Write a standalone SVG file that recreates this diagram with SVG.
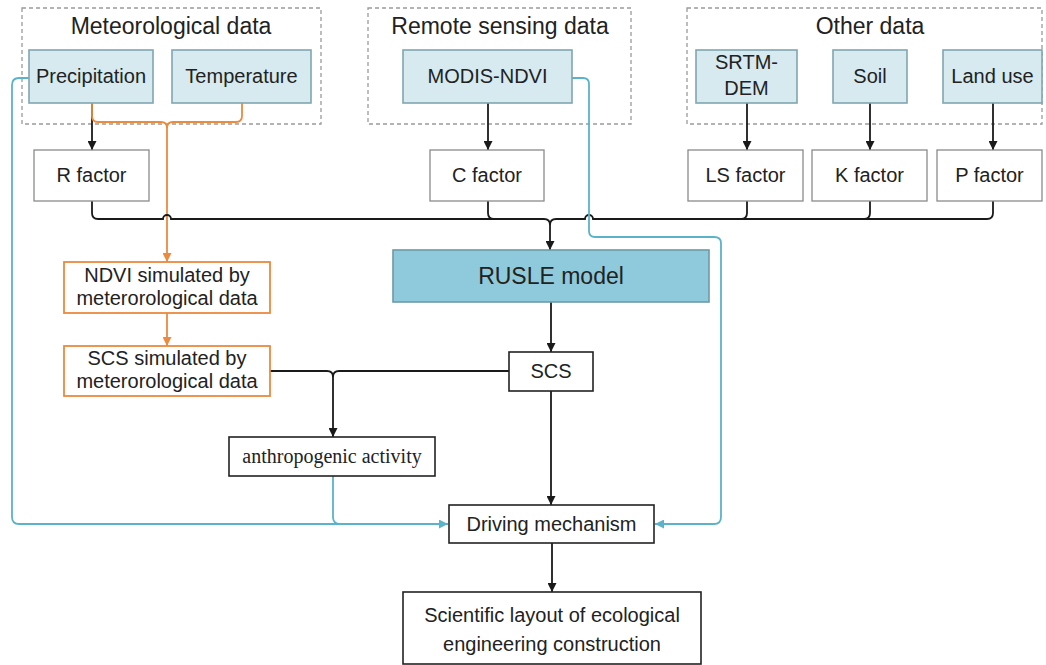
<svg xmlns="http://www.w3.org/2000/svg" width="1046" height="665" viewBox="0 0 1046 665">
  <style>
    text { font-family: "Liberation Sans", Arial, sans-serif; fill: #222; text-anchor: middle; }
    .title { font-size: 23px; }
    .lbl { font-size: 20px; }
    .big { font-size: 23px; }
    .serif { font-family: "Liberation Serif", "Times New Roman", serif; font-size: 20px; }
    .grp { fill: none; stroke: #9a9a9a; stroke-width: 1.3; stroke-dasharray: 4 3; }
    .src { fill: #d6eaf0; stroke: #7fa6b1; stroke-width: 1.6; }
    .fac { fill: #fff; stroke: #8a8a8a; stroke-width: 1.3; }
    .box { fill: #fff; stroke: #222; stroke-width: 1.6; }
    .sim { fill: #fff; stroke: #ec8a3e; stroke-width: 1.8; }
    .model { fill: #8ecadb; stroke: #6c9aa8; stroke-width: 1.6; }
    .k { fill: none; stroke: #1a1a1a; stroke-width: 1.8; }
    .o { fill: none; stroke: #ec8a3e; stroke-width: 1.8; }
    .c { fill: none; stroke: #5bb3c9; stroke-width: 1.8; }
  </style>
  <defs>
    <marker id="ah-k" viewBox="0 0 10 10" refX="10" refY="5" markerWidth="9" markerHeight="9" markerUnits="userSpaceOnUse" orient="auto">
      <path d="M0,0 L10,5 L0,10 z" fill="#1a1a1a"/>
    </marker>
    <marker id="ah-o" viewBox="0 0 10 10" refX="10" refY="5" markerWidth="9" markerHeight="9" markerUnits="userSpaceOnUse" orient="auto">
      <path d="M0,0 L10,5 L0,10 z" fill="#ec8a3e"/>
    </marker>
    <marker id="ah-c" viewBox="0 0 10 10" refX="10" refY="5" markerWidth="9" markerHeight="9" markerUnits="userSpaceOnUse" orient="auto">
      <path d="M0,0 L10,5 L0,10 z" fill="#5bb3c9"/>
    </marker>
  </defs>

  <!-- data source groups -->
  <g id="group-meteorological">
    <rect class="grp" x="22" y="8" width="299" height="116"/>
    <text class="title" x="171" y="34">Meteorological data</text>
  </g>
  <g id="group-remote-sensing">
    <rect class="grp" x="368" y="8" width="263" height="116"/>
    <text class="title" x="500" y="34">Remote sensing data</text>
  </g>
  <g id="group-other">
    <rect class="grp" x="687" y="8" width="355" height="116"/>
    <text class="title" x="870" y="34">Other data</text>
  </g>

  <!-- connectors -->
  <g id="connectors">
    <!-- inputs to factors -->
    <path class="k" d="M92,103 V150" marker-end="url(#ah-k)"/>
    <path class="k" d="M488,103 V150" marker-end="url(#ah-k)"/>
    <path class="k" d="M747,103 V150" marker-end="url(#ah-k)"/>
    <path class="k" d="M870,103 V150" marker-end="url(#ah-k)"/>
    <path class="k" d="M993,103 V150" marker-end="url(#ah-k)"/>

    <!-- meteorological inputs to simulated NDVI -->
    <path class="o" d="M92,103 V116 Q92,122 98,122 H161 Q167,122 167,128"/>
    <path class="o" d="M242,103 V116 Q242,122 236,122 H173 Q167,122 167,128"/>
    <path class="o" d="M167,128 V262" marker-end="url(#ah-o)"/>
    <path class="o" d="M167,313 V346" marker-end="url(#ah-o)"/>

    <!-- factor bus into RUSLE -->
    <path class="k" d="M92,201 V213 Q92,219 98,219 H163 A4,4 0 0 1 171,219 H544 Q550,219 550,225"/>
    <path class="k" d="M488,201 V213 Q488,219 494,219"/>
    <path class="k" d="M993,201 V213 Q993,219 987,219 H593 A4,4 0 0 0 585,219 H556 Q550,219 550,225"/>
    <path class="k" d="M747,201 V213 Q747,219 741,219"/>
    <path class="k" d="M870,201 V213 Q870,219 864,219"/>
    <path class="k" d="M550,225 V250" marker-end="url(#ah-k)"/>

    <!-- RUSLE to SCS -->
    <path class="k" d="M551,302 V352" marker-end="url(#ah-k)"/>

    <!-- SCS comparison to anthropogenic activity -->
    <path class="k" d="M509,371 H339 Q333,371 333,377"/>
    <path class="k" d="M270,371 H327 Q333,371 333,377"/>
    <path class="k" d="M333,377 V437" marker-end="url(#ah-k)"/>

    <!-- SCS to driving mechanism -->
    <path class="k" d="M551,391 V505" marker-end="url(#ah-k)"/>

    <!-- driving mechanism to layout -->
    <path class="k" d="M552,543 V592" marker-end="url(#ah-k)"/>

    <!-- direct links into driving mechanism -->
    <path class="c" d="M29,78 H19 Q12,78 12,85 V517 Q12,524 19,524 H448" marker-end="url(#ah-c)"/>
    <path class="c" d="M333,476 V517 Q333,524 340,524"/>
    <path class="c" d="M572,78 H583 Q589,78 589,84 V231 Q589,237 595,237 H714 Q721,237 721,243 V517 Q721,524 714,524 H655" marker-end="url(#ah-c)"/>
  </g>

  <!-- input data nodes -->
  <g id="node-precipitation">
    <rect class="src" x="29" y="50" width="124" height="53"/>
    <text class="lbl" x="91" y="83">Precipitation</text>
  </g>
  <g id="node-temperature">
    <rect class="src" x="172" y="50" width="139" height="53"/>
    <text class="lbl" x="241.5" y="83">Temperature</text>
  </g>
  <g id="node-modis-ndvi">
    <rect class="src" x="403" y="50" width="169" height="53"/>
    <text class="lbl" x="487.5" y="83">MODIS-NDVI</text>
  </g>
  <g id="node-srtm-dem">
    <rect class="src" x="696" y="50" width="101" height="53"/>
    <text class="lbl" x="746.5" y="69">SRTM-</text>
    <text class="lbl" x="746.5" y="95">DEM</text>
  </g>
  <g id="node-soil">
    <rect class="src" x="833" y="50" width="74" height="53"/>
    <text class="lbl" x="870" y="83">Soil</text>
  </g>
  <g id="node-land-use">
    <rect class="src" x="943" y="50" width="99" height="53"/>
    <text class="lbl" x="992.5" y="83">Land use</text>
  </g>

  <!-- RUSLE factor nodes -->
  <g id="node-r-factor">
    <rect class="fac" x="34" y="150" width="115" height="51"/>
    <text class="lbl" x="91.5" y="182">R factor</text>
  </g>
  <g id="node-c-factor">
    <rect class="fac" x="430" y="150" width="114" height="51"/>
    <text class="lbl" x="487" y="182">C factor</text>
  </g>
  <g id="node-ls-factor">
    <rect class="fac" x="688" y="150" width="115" height="51"/>
    <text class="lbl" x="745.5" y="182">LS factor</text>
  </g>
  <g id="node-k-factor">
    <rect class="fac" x="812" y="150" width="115" height="51"/>
    <text class="lbl" x="869.5" y="182">K factor</text>
  </g>
  <g id="node-p-factor">
    <rect class="fac" x="937" y="150" width="105" height="51"/>
    <text class="lbl" x="989.5" y="182">P factor</text>
  </g>

  <!-- simulated branch -->
  <g id="node-ndvi-simulated">
    <rect class="sim" x="64" y="262" width="206" height="51"/>
    <text class="lbl" x="167" y="282">NDVI simulated by</text>
    <text class="lbl" x="167" y="305">meterorological data</text>
  </g>
  <g id="node-scs-simulated">
    <rect class="sim" x="64" y="346" width="206" height="50"/>
    <text class="lbl" x="167" y="365">SCS simulated by</text>
    <text class="lbl" x="167" y="388">meterorological data</text>
  </g>

  <!-- model and results -->
  <g id="node-rusle">
    <rect class="model" x="393" y="250" width="316" height="52"/>
    <text class="big" x="551" y="284">RUSLE model</text>
  </g>
  <g id="node-scs">
    <rect class="box" x="509" y="352" width="84" height="39"/>
    <text class="lbl" x="551" y="378">SCS</text>
  </g>
  <g id="node-anthropogenic">
    <rect class="box" x="229" y="437" width="206" height="39"/>
    <text class="serif" x="332" y="463">anthropogenic activity</text>
  </g>
  <g id="node-driving">
    <rect class="box" x="449" y="505" width="205" height="38"/>
    <text class="lbl" x="551.5" y="531">Driving mechanism</text>
  </g>
  <g id="node-layout">
    <rect class="box" x="403" y="592" width="298" height="72"/>
    <text class="lbl" x="552" y="622">Scientific layout of ecological</text>
    <text class="lbl" x="552" y="651">engineering construction</text>
  </g>
</svg>
